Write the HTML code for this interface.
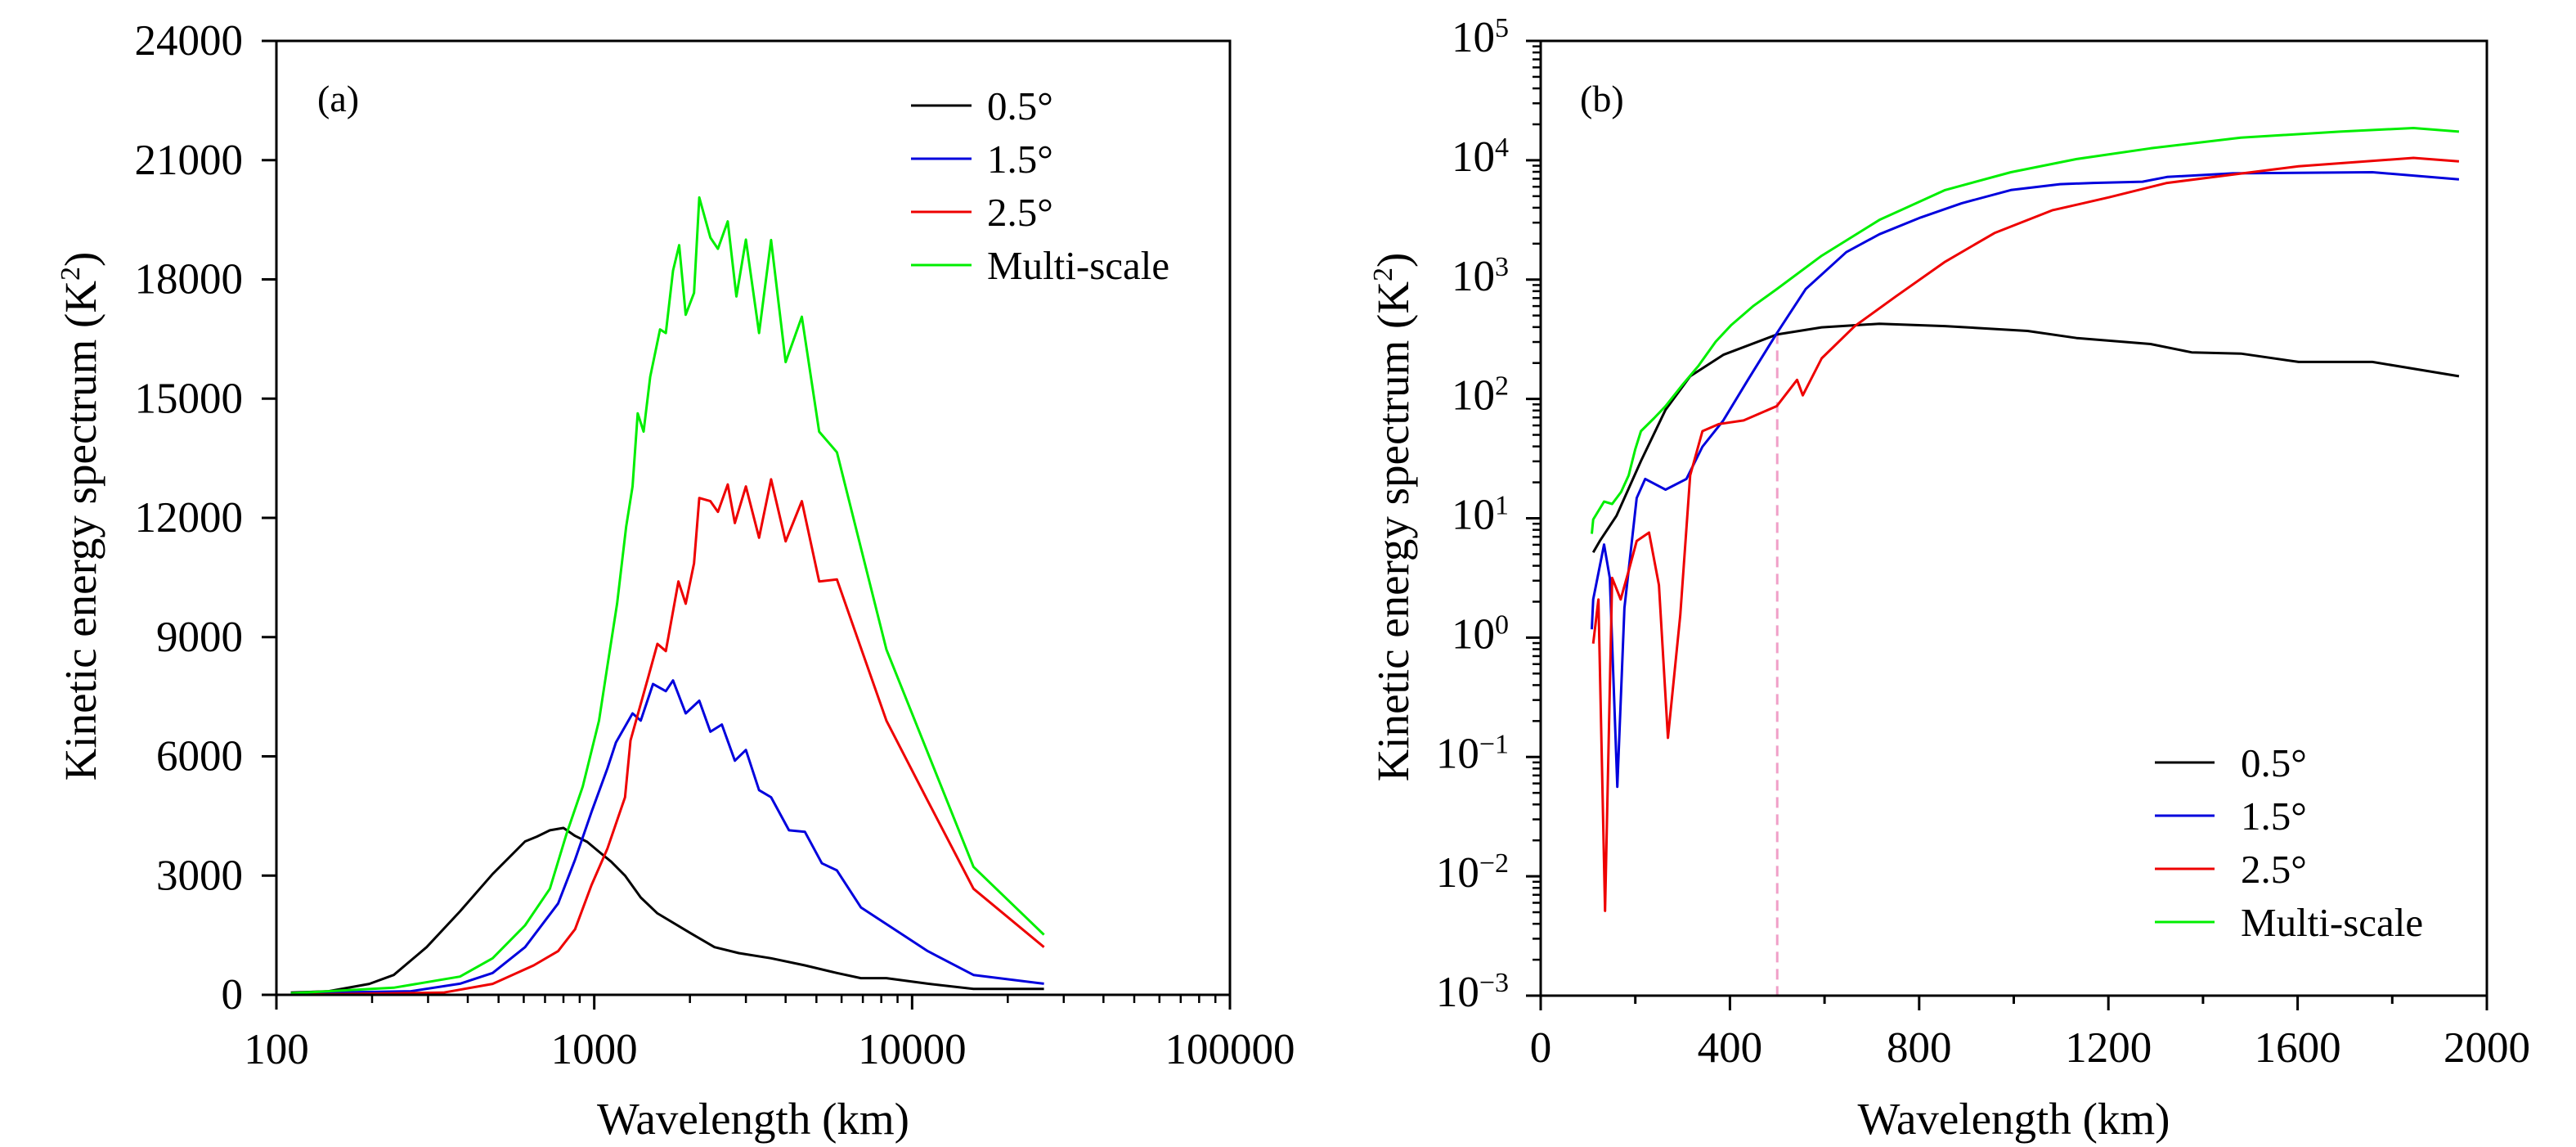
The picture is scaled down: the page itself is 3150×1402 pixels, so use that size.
<!DOCTYPE html>
<html><head><meta charset="utf-8"><style>
html,body{margin:0;padding:0;background:#fff}
svg{display:block;font-family:"Liberation Serif","DejaVu Serif","Times New Roman",serif}
svg text{font-family:"Liberation Serif","DejaVu Serif","Times New Roman",serif;fill:#000}
</style></head><body>
<svg id="fig" width="3150" height="1402" viewBox="0 0 3150 1402" xmlns="http://www.w3.org/2000/svg"></svg>
<script>
// ---- Panel (a) data: wavelength (km) and spectrum (K^2)
const aBlackW=[111,146,196,234,297,378,479,606,660,725,800,870,950,1035,1130,1250,1400,1580,2000,2390,2850,3600,4600,5800,6900,8300,11200,15600,26000];
const aBlackV=[55,90,275,500,1200,2100,3040,3860,3980,4140,4200,4000,3850,3600,3350,3000,2450,2050,1560,1200,1050,920,740,550,420,420,280,150,150];
const aBlueW=[111,265,378,479,606,770,870,980,1100,1170,1320,1400,1530,1680,1770,1940,2140,2320,2520,2770,3000,3300,3600,4100,4600,5200,5800,6900,11200,15600,26000];
const aBlueV=[40,90,280,550,1200,2300,3400,4600,5700,6350,7080,6900,7820,7640,7910,7080,7400,6620,6800,5890,6160,5150,4970,4140,4100,3310,3130,2200,1100,500,280];
const aRedW=[111,335,479,645,770,870,980,1100,1250,1300,1480,1580,1680,1840,1940,2060,2140,2320,2450,2630,2770,3000,3300,3600,4000,4500,5100,5800,8300,11200,15600,26000];
const aRedV=[0,55,275,740,1100,1650,2760,3680,4970,6400,8000,8830,8650,10400,9840,10860,12500,12420,12150,12840,11870,12790,11500,12970,11410,12420,10400,10450,6900,4880,2670,1200];
const aGreenW=[111,234,378,479,606,725,818,920,1035,1100,1180,1260,1320,1370,1430,1500,1610,1680,1770,1850,1940,2060,2140,2320,2450,2630,2800,3000,3300,3600,4000,4500,5100,5800,8300,15600,26000];
const aGreenV=[40,180,460,920,1750,2670,4050,5240,6900,8280,9840,11780,12790,14630,14170,15550,16740,16650,18220,18860,17110,17660,20060,19050,18770,19460,17570,19000,16650,18990,15920,17060,14170,13650,8690,3220,1510];
const aYTicks=[0,3000,6000,9000,12000,15000,18000,21000,24000];
const aXTicks=[100,1000,10000,100000];
// ---- Panel (b) data: wavelength (km) and log10 spectrum
const bBlackW=[111,125,160,212,264,316,386,499,594,716,855,1029,1133,1289,1376,1480,1602,1758,1941];
const bBlackL=[0.714,0.81,1.02,1.48,1.91,2.19,2.37,2.54,2.60,2.63,2.61,2.57,2.51,2.46,2.39,2.38,2.31,2.31,2.19];
const bBlueW=[108,111,134,146,162,177,203,221,264,308,342,386,438,499,560,646,716,803,890,994,1098,1168,1272,1324,1463,1758,1941];
const bBlueL=[0.07,0.32,0.78,0.50,-1.25,0.25,1.17,1.33,1.24,1.33,1.60,1.82,2.16,2.55,2.92,3.23,3.38,3.52,3.64,3.75,3.80,3.81,3.82,3.86,3.89,3.90,3.84];
const bRedW=[111,122,136,151,169,186,203,229,250,269,295,316,342,377,429,499,542,554,594,664,751,855,959,1081,1202,1324,1463,1602,1845,1941];
const bRedL=[-0.05,0.32,-2.29,0.50,0.32,0.56,0.81,0.88,0.44,-0.84,0.19,1.36,1.73,1.79,1.82,1.94,2.16,2.03,2.34,2.61,2.86,3.15,3.39,3.58,3.69,3.81,3.88,3.95,4.02,3.99];
const bGreenW=[108,111,134,151,170,186,200,212,240,264,300,334,370,403,450,499,594,716,855,994,1133,1289,1480,1689,1845,1941];
const bGreenL=[0.87,0.99,1.14,1.12,1.22,1.36,1.58,1.73,1.84,1.94,2.12,2.28,2.48,2.62,2.78,2.92,3.20,3.50,3.75,3.90,4.01,4.10,4.19,4.24,4.27,4.24];
const bXTicks=[0,400,800,1200,1600,2000];
const bYExp=[-3,-2,-1,0,1,2,3,4,5];
const bDashW=500;
const legendLabels=["0.5°","1.5°","2.5°","Multi-scale"];
const colors=["#000000","#0000dd","#ee0000","#00ee00"];

const NS="http://www.w3.org/2000/svg";
const FF="'Liberation Serif','DejaVu Serif','Times New Roman',serif";
const svg=document.getElementById('fig');
function mk(tag,attrs,parent){const e=document.createElementNS(NS,tag);for(const k in attrs)e.setAttribute(k,attrs[k]);if(tag==='text'){e.setAttribute('font-family',FF);}(parent||svg).appendChild(e);return e;}

const A={x0:338,x1:1504,y0:50,y1:1216};
const B={x0:1884,x1:3041,y0:50,y1:1217};
const ax=w=>A.x0+(Math.log10(w)-2)/3*(A.x1-A.x0);
const ay=v=>A.y1-v/24000*(A.y1-A.y0);
const bx=w=>B.x0+w/2000*(B.x1-B.x0);
const by=l=>B.y1-(l+3)/8*(B.y1-B.y0);

function poly(xs,ys,fx,fy,col,name,g){
  const pts=xs.map((x,i)=>fx(x).toFixed(1)+','+fy(ys[i]).toFixed(1)).join(' ');
  const p=mk('polyline',{points:pts,fill:'none',stroke:col,'stroke-width':3,'stroke-linejoin':'round'},g);
  
  
}

// ===== Panel A =====
const gA=mk('g',{});


const sA=[[aBlackW,aBlackV],[aBlueW,aBlueV],[aRedW,aRedV],[aGreenW,aGreenV]];
const nm=['series-0-5deg','series-1-5deg','series-2-5deg','series-multi-scale'];
sA.forEach((s,i)=>poly(s[0],s[1],ax,ay,colors[i],'a-'+nm[i],gA));
const frA=mk('rect',{x:A.x0,y:A.y0,width:A.x1-A.x0,height:A.y1-A.y0,fill:'none',stroke:'#000','stroke-width':3},gA);


aYTicks.forEach(v=>{
  mk('line',{x1:A.x0-18,x2:A.x0,y1:ay(v),y2:ay(v),stroke:'#000','stroke-width':3},gA);
  const t=mk('text',{x:297,y:ay(v)+17,'font-size':53,'text-anchor':'end'},gA);t.textContent=v;
  
  
});
aXTicks.forEach((v,i)=>{
  mk('line',{x1:ax(v),x2:ax(v),y1:A.y1,y2:A.y1+18,stroke:'#000','stroke-width':3},gA);
  const t=mk('text',{x:ax(v),y:1300,'font-size':53,'text-anchor':'middle'},gA);t.textContent=v;
  
  
  if(i<3)for(let m=2;m<10;m++){const xx=ax(v*m);mk('line',{x1:xx,x2:xx,y1:A.y1,y2:A.y1+10,stroke:'#000','stroke-width':2.5},gA);}
});
let t=mk('text',{x:(A.x0+A.x1)/2,y:1386,'font-size':55,'text-anchor':'middle'},gA);t.textContent='Wavelength (km)';


t=mk('text',{transform:'translate(117,631) rotate(-90)','font-size':55,'text-anchor':'middle'},gA);
t.innerHTML='Kinetic energy spectrum (K<tspan dy="-20" font-size="34">2</tspan><tspan dy="20">)</tspan>';


t=mk('text',{x:388,y:136,'font-size':46},gA);t.textContent='(a)';


legendLabels.forEach((l,i)=>{
  const y=129+i*65;
  const g=mk('g',{},gA);
  
  
  mk('line',{x1:1114,x2:1188,y1:y,y2:y,stroke:colors[i],'stroke-width':3},g);
  const tt=mk('text',{x:1207,y:y+17,'font-size':49},g);tt.textContent=l;
});

// ===== Panel B =====
const gB=mk('g',{});


const dash=mk('line',{x1:bx(bDashW),x2:bx(bDashW),y1:by(2.55),y2:B.y1,stroke:'#f0a0c8','stroke-width':3,'stroke-dasharray':'13,8'},gB);


const sB=[[bBlackW,bBlackL],[bBlueW,bBlueL],[bRedW,bRedL],[bGreenW,bGreenL]];
sB.forEach((s,i)=>poly(s[0],s[1],bx,by,colors[i],'b-'+nm[i],gB));
const frB=mk('rect',{x:B.x0,y:B.y0,width:B.x1-B.x0,height:B.y1-B.y0,fill:'none',stroke:'#000','stroke-width':3},gB);


bYExp.forEach((e,i)=>{
  mk('line',{x1:B.x0-18,x2:B.x0,y1:by(e),y2:by(e),stroke:'#000','stroke-width':3},gB);
  if(i<bYExp.length-1)for(let m=2;m<10;m++){const yy=by(e+Math.log10(m));mk('line',{x1:B.x0-10,x2:B.x0,y1:yy,y2:yy,stroke:'#000','stroke-width':2.5},gB);}
  const tt=mk('text',{x:1845,y:by(e)+13,'font-size':53,'text-anchor':'end'},gB);
  tt.innerHTML='10<tspan dy="-18" font-size="34">'+(e<0?'\u2212'+(-e):e)+'</tspan>';
  
  
});
bXTicks.forEach((v,i)=>{
  mk('line',{x1:bx(v),x2:bx(v),y1:B.y1,y2:B.y1+18,stroke:'#000','stroke-width':3},gB);
  if(i<bXTicks.length-1){const xm=bx(v+200);mk('line',{x1:xm,x2:xm,y1:B.y1,y2:B.y1+10,stroke:'#000','stroke-width':3},gB);}
  const tt=mk('text',{x:bx(v),y:1298,'font-size':53,'text-anchor':'middle'},gB);tt.textContent=v;
  
  
});
t=mk('text',{x:(B.x0+B.x1)/2,y:1386,'font-size':55,'text-anchor':'middle'},gB);t.textContent='Wavelength (km)';


t=mk('text',{transform:'translate(1722,632) rotate(-90)','font-size':55,'text-anchor':'middle'},gB);
t.innerHTML='Kinetic energy spectrum (K<tspan dy="-20" font-size="34">2</tspan><tspan dy="20">)</tspan>';


t=mk('text',{x:1932,y:136,'font-size':46},gB);t.textContent='(b)';


legendLabels.forEach((l,i)=>{
  const y=932+i*65;
  const g=mk('g',{},gB);
  
  
  mk('line',{x1:2635,x2:2708,y1:y,y2:y,stroke:colors[i],'stroke-width':3},g);
  const tt=mk('text',{x:2740,y:y+17,'font-size':49},g);tt.textContent=l;
});
</script>
</body></html>
